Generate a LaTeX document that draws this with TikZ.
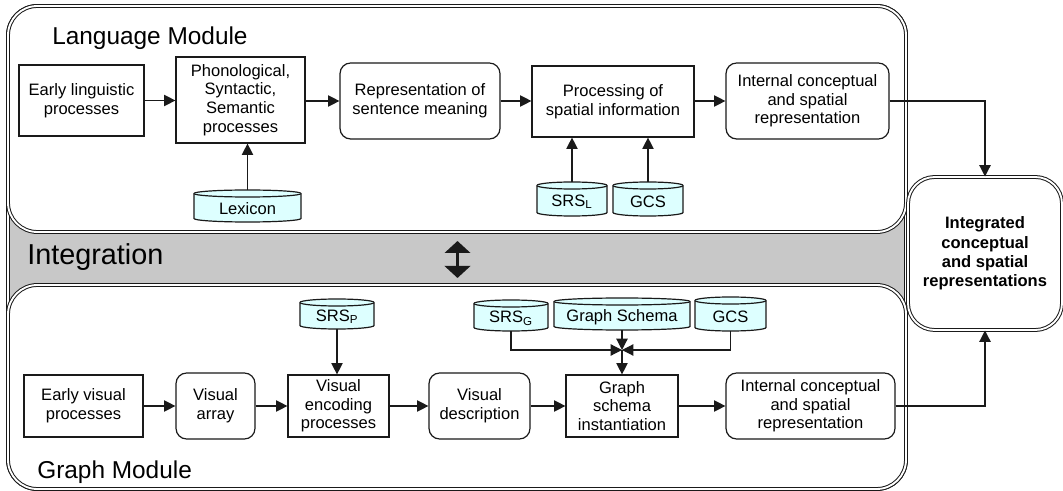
\documentclass[tikz,border=0pt]{standalone}
\usepackage{fontspec}
\setmainfont{Liberation Sans}
\usetikzlibrary{arrows.meta}
\definecolor{cyanfill}{HTML}{DDFFFF}
\definecolor{bandgray}{HTML}{C8C8C8}
\definecolor{linec}{HTML}{1A1A1A}
\newcommand\procfont{\fontsize{12.4}{14}\selectfont}
\newcommand\dbcyl[6]{%
  \pgfmathsetmacro\cylL{#2-#4/2}%
  \pgfmathsetmacro\cylR{#2+#4/2}%
  \pgfmathsetmacro\cylT{#3-#5/2+3.5}%
  \pgfmathsetmacro\cylB{#3+#5/2-3.5}%
  \pgfmathsetmacro\cylRx{#4/2}%
  \filldraw[cylline] (\cylL,\cylT) -- (\cylL,\cylB)
     arc[start angle=180,end angle=0,x radius=\cylRx,y radius=3.5]
     -- (\cylR,\cylT)
     arc[start angle=0,end angle=-180,x radius=\cylRx,y radius=3.5] -- cycle;
  \draw[cylline] (\cylL,\cylT) arc[start angle=180,end angle=0,x radius=\cylRx,y radius=3.5];
  \node[sz={#4}{#5}, inner sep=0] (#1) at (#2,#3) {};
  \node[font=\procfont, inner sep=0] (#1-t) at (#2,#3+3) {#6};
}
\begin{document}
\begin{tikzpicture}[x=0.75pt,y=-0.75pt,
  sz/.style 2 args={minimum width=#1*0.75pt, minimum height=#2*0.75pt},
  box/.style={draw=linec, line width=0.9pt, fill=white, align=center, inner sep=0, font=\procfont},
  rbox/.style={box, rounded corners=8pt},
  cylline/.style={draw=linec, line width=0.9pt, fill=cyanfill},
  module/.style={draw=linec, line width=0.75pt, double=white, double distance=1.4pt, rounded corners=22pt},
  arr/.style={draw=linec, line width=0.9pt, -{Triangle[length=8.5pt,width=8.5pt]}},
  title/.style={font=\fontsize{18.3}{20}\selectfont, inner sep=0, anchor=base west}
]
\useasboundingbox (0,0) rectangle (1063,491);

% containers
\draw[module, fill=bandgray] (8,6) rectangle (906,489);
\draw[module, fill=white] (8,6) rectangle (906,232);
\draw[module, fill=white] (8,285) rectangle (906,489);
\node[draw=linec, line width=0.75pt, double=white, double distance=1.4pt, rounded corners=20pt,
      fill=white, sz={154}{153}, align=center, inner sep=0,
      font=\bfseries\fontsize{12.4}{14.5}\selectfont] (integ) at (985,253.5)
      {Integrated\\conceptual\\and spatial\\representations};

\node[title] (langtitle) at (52,45) {Language Module};
\node[title] (graphtitle) at (37,478) {Graph Module};
\node[title, font=\fontsize{21.6}{24}\selectfont] (integtitle) at (27,265) {Integration};

% language row
\node[box, sz={125}{71}] (l1) at (81.5,100.5) {Early linguistic\\processes};
\node[box, sz={129}{86}] (l2) at (240.5,100) {Phonological,\\Syntactic,\\Semantic\\processes};
\node[rbox, sz={160}{76}] (l3) at (420,101) {Representation of\\sentence meaning};
\node[box, sz={162}{71}] (l4) at (613,101.5) {Processing of\\spatial information};
\node[rbox, sz={163}{76}] (l5) at (807.5,101) {Internal conceptual\\and spatial\\representation};

\dbcyl{lex}{247.5}{206}{107}{32}{Lexicon}
\dbcyl{srsl}{572}{199}{70}{34}{SRS\textsubscript{L}}
\dbcyl{gcsl}{648}{199}{70}{34}{GCS}

\draw[arr] (l1.east) -- (l1.east -| l2.west);
\draw[arr] (l2.east |- l3.west) -- (l3.west);
\draw[arr] (l3.east) -- (l3.east -| l4.west);
\draw[arr] (l4.east |- l5.west) -- (l5.west);
\draw[arr] (lex.north) -- (lex.north |- l2.south);
\draw[arr] (srsl.north) -- (srsl.north |- l4.south);
\draw[arr] (gcsl.north) -- (gcsl.north |- l4.south);
\draw[arr] (l5.east) -| (integ.north);

% integration arrow
\coordinate (dtop) at (457.5,241);
\coordinate (dbot) at (457.5,278);
\draw[draw=linec, line width=2.4pt,
  {Triangle[length=9pt,width=19pt]}-{Triangle[length=9pt,width=19pt]}] (dtop) -- (dbot);

% graph row
\node[box, sz={119}{62}] (g1) at (83.5,406) {Early visual\\processes};
\node[rbox, sz={79}{66}] (g2) at (215.5,406) {Visual\\array};
\node[box, sz={101}{62}] (g3) at (338.5,406) {Visual\\encoding\\processes};
\node[rbox, sz={101}{66}] (g4) at (479.5,406) {Visual\\description};
\node[box, sz={112}{62}] (g5) at (622,406) {Graph\\schema\\instantiation};
\node[rbox, sz={169}{66}] (g6) at (810.5,406) {Internal conceptual\\and spatial\\representation};

\dbcyl{srsp}{337}{314}{74}{30}{SRS\textsubscript{P}}
\dbcyl{srsg}{511}{315.5}{74}{31}{SRS\textsubscript{G}}
\dbcyl{gs}{622}{314}{136}{32}{Graph Schema}
\dbcyl{gcsg}{730.5}{314}{71}{34}{GCS}

\draw[arr] (g1) -- (g2);
\draw[arr] (g2) -- (g3);
\draw[arr] (g3) -- (g4);
\draw[arr] (g4) -- (g5);
\draw[arr] (g5) -- (g6);
\draw[arr] (srsp.south) -- (srsp.south |- g3.north);
\coordinate (J) at (622,350);
\draw[arr] (srsg.south) |- (J);
\draw[arr] (gcsg.south) |- (J);
\draw[arr] (gs.south) -- (J);
\draw[arr] (J) -- (g5.north);
\draw[arr] (g6.east) -| (integ.south);
\end{tikzpicture}
\end{document}
